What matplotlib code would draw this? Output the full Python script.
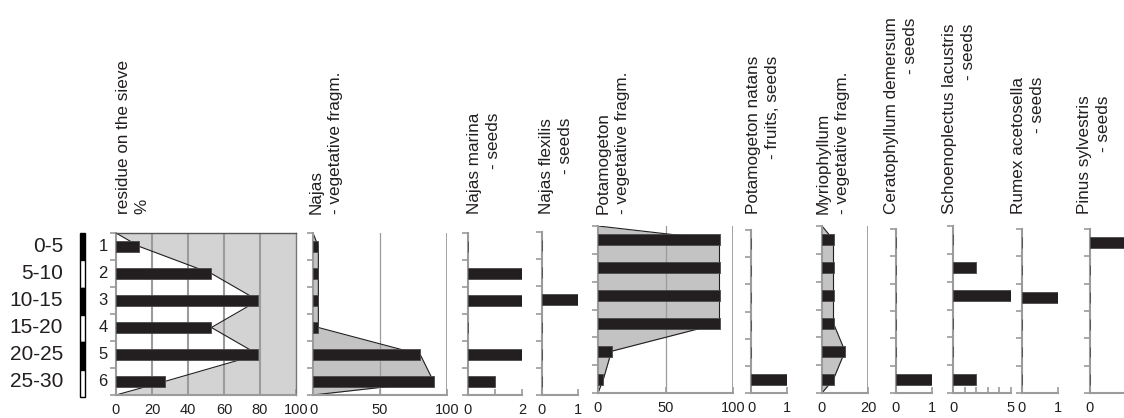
import matplotlib
matplotlib.use("Agg")
import matplotlib.pyplot as plt
import matplotlib.transforms as mtransforms
import numpy as np

plt.rcParams['font.family'] = ['Liberation Sans', 'DejaVu Sans']

# ---------------- data ----------------
depths = ['0-5', '5-10', '10-15', '15-20', '20-25', '25-30']
samples = ['1', '2', '3', '4', '5', '6']
strip_black = [True, False, True, False, True, False]

residue = [13, 53, 79, 53, 79, 27]
najas_veg = [4, 4, 4, 4, 80, 90]
najas_marina = [0, 2, 2, 0, 2, 1]
najas_flexilis = [0, 0, 1, 0, 0, 0]
potamogeton_veg = [90, 90, 90, 90, 10, 4]
potamogeton_natans = [0, 0, 0, 0, 0, 1]
myriophyllum = [5, 5, 5, 5, 10, 5]
ceratophyllum = [0, 0, 0, 0, 0, 1]
schoenoplectus = [0, 2, 5, 0, 0, 2]
rumex = [0, 0, 1, 0, 0, 0]
pinus = [1, 0, 0, 0, 0, 0]

headers = [
    "residue on the sieve\n%",
    "Najas\n- vegetative fragm.",
    "Najas marina\n- seeds",
    "Najas flexilis\n- seeds",
    "Potamogeton\n- vegetative fragm.",
    "Potamogeton natans\n- fruits, seeds",
    "Myriophyllum\n- vegetative fragm.",
    "Ceratophyllum demersum\n- seeds",
    "Schoenoplectus lacustris\n- seeds",
    "Rumex acetosella\n- seeds",
    "Pinus sylvestris\n- seeds",
]
header_align = ['left', 'left', 'right', 'right', 'left', 'right', 'left',
                'right', 'right', 'right', 'right']

# panel: values, xmax, ticks, ticklabels
panels = [
    (residue, 100, [0, 20, 40, 60, 80, 100], ['0', '20', '40', '60', '80', '100']),
    (najas_veg, 100, [0, 50, 100], ['0', '50', '100']),
    (najas_marina, 2, [0, 1, 2], ['0', '', '2']),
    (najas_flexilis, 1, [0, 1], ['0', '1']),
    (potamogeton_veg, 100, [0, 50, 100], ['0', '50', '100']),
    (potamogeton_natans, 1, [0, 1], ['0', '1']),
    (myriophyllum, 20, [0, 20], ['0', '20']),
    (ceratophyllum, 1, [0, 1], ['0', '1']),
    (schoenoplectus, 5, [0, 1, 2, 3, 4, 5], ['0', '', '', '', '', '5']),
    (rumex, 1, [0, 1], ['0', '1']),
    (pinus, 1, [0, 1], ['0', '']),
]

# ---------------- layout (pixels) ----------------
W, H = 1124, 418
# x0, x1, ytop, ybottom
boxes = [
    (116, 296, 233, 395),
    (313, 447, 233, 395),
    (468, 522, 233, 395),
    (542, 578, 232, 395),
    (598, 733, 226, 393),
    (751, 787, 230, 393),
    (822, 868, 226, 393),
    (896, 932, 229, 393),
    (953, 1011, 226, 393),
    (1022, 1058, 229, 393),
    (1090, 1126, 229, 393),
]
header_x = [116, 309, 467, 539, 596, 746, 816, 884, 942, 1011, 1077]
header_bottom = 214

INK = '#231f20'
GRAY = '#9b9b9b'
FILL1 = '#d3d3d3'
FILL2 = '#c3c3c3'

fig = plt.figure(figsize=(W / 100, H / 100), dpi=100)


def px_axes(x0, x1, yt, yb):
    return fig.add_axes([x0 / W, 1 - yb / H, (x1 - x0) / W, (yb - yt) / H])


rows = np.arange(len(depths)) + 0.5
poly_y = np.concatenate([[0], rows, [len(depths)]])

axes = []
for i, ((vals, xmax, ticks, tlabels), (x0, x1, yt, yb)) in enumerate(zip(panels, boxes)):
    ax = px_axes(x0, x1, yt, yb)
    ax.set_xlim(0, xmax)
    ax.set_ylim(len(depths), 0)
    ax.patch.set_alpha(0)
    for s in ['top', 'right']:
        ax.spines[s].set_visible(False)
    ax.spines['left'].set_color(GRAY)
    ax.spines['left'].set_linewidth(1.5)
    ax.spines['bottom'].set_color(GRAY)
    ax.spines['bottom'].set_linewidth(1.5)
    ax.set_yticks(np.arange(len(depths) + 1))
    ax.set_yticklabels([])
    ax.tick_params(axis='y', direction='out', length=4, width=1.2, color=GRAY)
    ax.set_xticks(ticks)
    ax.set_xticklabels(tlabels)
    ax.tick_params(axis='x', direction='in', length=4, width=1.2, color=GRAY,
                   labelsize=10.5, labelcolor=INK, pad=5.5)
    poly_x = np.concatenate([[0], vals, [0]])
    if i == 0:
        ax.fill_betweenx(poly_y, poly_x, xmax, color=FILL1, lw=0, zorder=0)
        for g in [20, 40, 60, 80]:
            ax.axvline(g, color=GRAY, lw=1.5, zorder=1)
        ax.plot(poly_x, poly_y, color=INK, lw=0.8, zorder=2)
        ax.spines['top'].set_visible(True)
        ax.spines['top'].set_color('#555555')
        ax.spines['top'].set_linewidth(1.0)
        ax.spines['right'].set_visible(True)
        ax.spines['right'].set_color('#777777')
        ax.spines['right'].set_linewidth(1.0)
    elif i in (1, 4, 6):
        ax.fill_betweenx(poly_y, 0, poly_x, color=FILL2, lw=0, zorder=0)
        ax.plot(poly_x, poly_y, color=INK, lw=0.8, zorder=2)
        ax.axvline(xmax, color=GRAY, lw=1.3, zorder=1)
        if xmax == 100:
            ax.axvline(50, color=GRAY, lw=0.9, zorder=1)
    ax.barh(rows, vals, height=0.4, color=INK, edgecolor='#4a4a4a', linewidth=0.6,
            zorder=3)
    axes.append(ax)

ax1 = axes[0]
# depth labels and sample numbers
trans = mtransforms.blended_transform_factory(fig.transFigure, ax1.transData)
for r, d, s in zip(rows, depths, samples):
    fig.text(63 / W, r, d, transform=trans, ha='right', va='center', fontsize=15,
             color=INK)
    fig.text(103 / W, r, s, transform=trans, ha='center', va='center', fontsize=12,
             color=INK)

# stratigraphy strip
axs = px_axes(80, 85, 233, 397)
axs.set_xlim(0, 1)
axs.set_ylim(len(depths), 0)
axs.axis('off')
bars = axs.barh(rows, 1, height=1,
                color=['black' if b else 'white' for b in strip_black],
                edgecolor='black', linewidth=1.0)
for b in bars:
    b.set_clip_on(False)

# headers
for text, x, al in zip(headers, header_x, header_align):
    fig.text(x / W, 1 - header_bottom / H, text, rotation=90, rotation_mode='anchor',
             ha='left', va='top', multialignment=al, fontsize=12.3, color=INK,
             linespacing=1.3)

fig.savefig('out.png', dpi=100)
